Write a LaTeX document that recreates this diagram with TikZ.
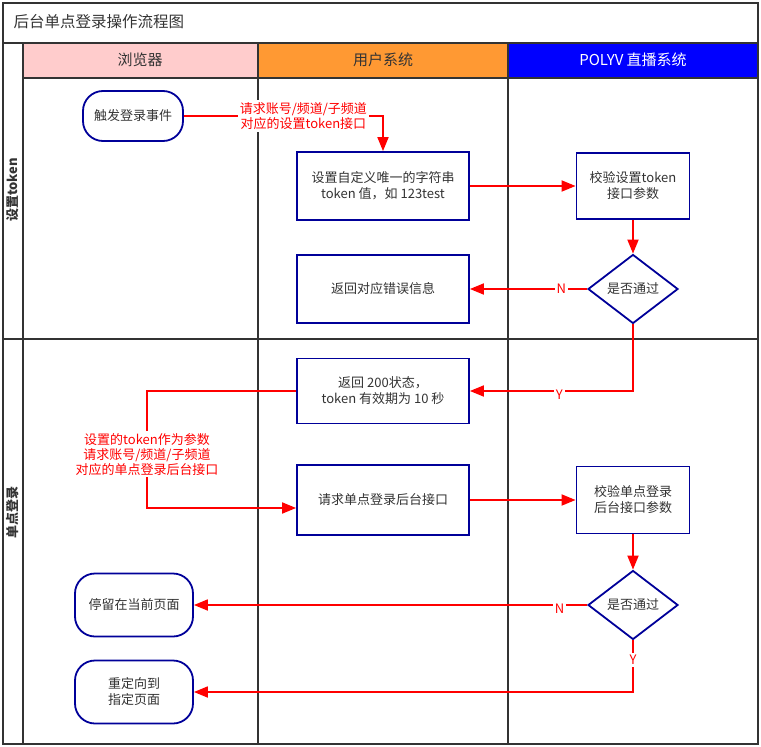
\documentclass[tikz,border=0pt]{standalone}
\usepackage{fontspec}
\setmainfont{Noto Sans CJK SC}
\usetikzlibrary{arrows.meta,shapes.geometric}

\definecolor{boxblue}{RGB}{0,0,153}
\definecolor{flowred}{RGB}{255,0,0}
\definecolor{linegray}{RGB}{51,51,51}
\definecolor{txtgray}{RGB}{51,51,51}
\definecolor{hdpink}{RGB}{255,204,204}
\definecolor{hdorange}{RGB}{255,153,51}
\definecolor{hdblue}{RGB}{0,0,255}

\begin{document}
\begin{tikzpicture}[x=1pt,y=-1pt,
  laneline/.style={draw=linegray,line width=1.8pt},
  procbox/.style={draw=boxblue,line width=1.8pt,fill=white,minimum width=172pt,minimum height=68pt,
    align=center,text=txtgray,font=\fontsize{13}{16}\selectfont},
  termbox/.style={procbox,rounded corners=20pt,minimum width=118pt,minimum height=63pt},
  decide/.style={diamond,draw=boxblue,line width=1.8pt,fill=white,inner sep=0pt,
    minimum width=90pt,minimum height=69pt,text=txtgray,font=\fontsize{13}{16}\selectfont},
  flow/.style={draw=flowred,line width=1.8pt,-{Triangle[length=14pt,width=11pt]}},
  edgelbl/.style={fill=white,text=flowred,align=center,inner sep=2pt,font=\fontsize{13}{15}\selectfont},
  hdtext/.style={font=\fontsize{15}{18}\selectfont,text=txtgray},
  lanetext/.style={rotate=90,font=\fontsize{13}{15}\selectfont\bfseries,text=txtgray}
]
  \useasboundingbox (0,0) rectangle (761,747);

  % swimlane frame
  \fill[hdpink] (23,43) rectangle (258,78);
  \fill[hdorange] (258,43) rectangle (508,78);
  \fill[hdblue] (508,43) rectangle (758,78);
  \draw[laneline] (3,43) -- (758,43);
  \draw[laneline] (23,78) -- (758,78);
  \draw[laneline] (3,339) -- (758,339);
  \draw[laneline] (23,43) -- (23,744);
  \draw[laneline] (258,43) -- (258,744);
  \draw[laneline] (508,43) -- (508,744);
  \draw[draw=linegray,line width=2.6pt] (3,3) rectangle (758,744);

  \node[anchor=west,font=\fontsize{15.5}{18}\selectfont,text=txtgray] (title) at (10,22) {后台单点登录操作流程图};
  \node[hdtext] (hd_browser) at (140,60) {浏览器};
  \node[hdtext] (hd_user) at (383,60) {用户系统};
  \node[hdtext,text=white] (hd_polyv) at (633,60) {POLYV 直播系统};
  \node[lanetext] (lane_set) at (13,190) {设置token};
  \node[lanetext] (lane_sso) at (13,512) {单点登录};

  % steps
  \node[termbox,minimum width=100pt,minimum height=50pt] (trigger_evt) at (133,116) {触发登录事件};
  \node[procbox] (set_token) at (383,186) {设置自定义唯一的字符串\\token 值，如 123test};
  \node[procbox,minimum width=113pt,minimum height=66pt] (check_set) at (633,186) {校验设置token\\接口参数};
  \node[decide] (pass_one) at (633,289) {是否通过};
  \node[procbox] (ret_err) at (383,289) {返回对应错误信息};
  \node[procbox,minimum height=65pt] (ret_ok) at (383,391) {返回 200状态，\\token 有效期为 10 秒};
  \node[procbox,minimum height=70pt] (req_sso) at (383,500) {请求单点登录后台接口};
  \node[procbox,minimum width=113pt,minimum height=67pt] (check_sso) at (633,500) {校验单点登录\\后台接口参数};
  \node[decide] (pass_two) at (633,605) {是否通过};
  \node[termbox] (stay_page) at (134,605) {停留在当前页面};
  \node[termbox] (redirect) at (134,692) {重定向到\\指定页面};

  \coordinate (bend_ok) at (147,391);

  % connectors
  \draw[flow] (trigger_evt.east) -| node[pos=0.3,edgelbl]{请求账号/频道/子频道\\对应的设置token接口} (set_token.north);
  \draw[flow] (set_token.east) -- (check_set.west);
  \draw[flow] (check_set.south) -- (pass_one.north);
  \draw[flow] (pass_one.west) -- node[pos=0.22,edgelbl]{N} (ret_err.east);
  \draw[flow] (pass_one.south) |- node[pos=0.726,edgelbl,yshift=-4pt]{Y} (ret_ok.east);
  \draw[flow] (ret_ok.west) -- (bend_ok) |- node[pos=0.27,edgelbl]{设置的token作为参数\\请求账号/频道/子频道\\对应的单点登录后台接口} ([yshift=-8pt]req_sso.west);
  \draw[flow] (req_sso.east) -- (check_sso.west);
  \draw[flow] (check_sso.south) -- (pass_two.north);
  \draw[flow] (pass_two.west) -- node[pos=0.07,edgelbl,yshift=-4pt]{N} (stay_page.east);
  \draw[flow] (pass_two.south) |- node[pos=0.19,edgelbl]{Y} (redirect.east);
\end{tikzpicture}
\end{document}
